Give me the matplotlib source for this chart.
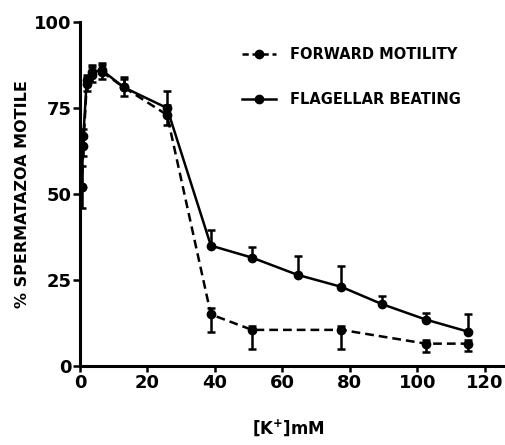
import matplotlib
matplotlib.use("Agg")
import matplotlib.pyplot as plt
import numpy as np
from matplotlib.lines import Line2D

# Forward motility (dashed)
fm_x = [0.5, 1.0, 2.0, 3.5, 6.5, 13.0, 25.8, 38.8, 51.0, 77.5, 102.5, 115.0]
fm_y = [52.0, 64.0, 82.0, 84.5, 85.5, 81.0, 73.0, 15.0, 10.5, 10.5, 6.5, 6.5]
fm_lo = [6.0, 3.0, 2.0, 2.0, 2.0, 2.5, 3.0, 5.0, 5.5, 5.5, 2.5, 2.0]
fm_hi = [6.0, 3.0, 2.0, 2.5, 2.0, 2.5, 3.0, 2.0, 1.0, 1.0, 1.0, 1.0]

# Flagellar beating (solid)
fb_x = [0.5, 1.0, 2.0, 3.5, 6.5, 13.0, 25.8, 38.8, 51.0, 64.5, 77.5, 89.5, 102.5, 115.0]
fb_y = [52.0, 67.0, 83.0, 85.5, 86.0, 81.0, 75.0, 35.0, 31.5, 26.5, 23.0, 18.0, 13.5, 10.0]
fb_lo = [0, 0, 0, 0, 0, 0, 0, 0, 0, 0, 0, 0, 0, 0]
fb_hi = [0.0, 2.0, 1.5, 2.0, 2.0, 3.0, 5.0, 4.5, 3.0, 5.5, 6.0, 2.3, 2.0, 5.0]

x_ticks = [0, 20, 40, 60, 80, 100, 120]
y_ticks = [0, 25, 50, 75, 100]

plt.rcParams['font.family'] = ['DejaVu Sans']
fig = plt.figure(figsize=(5.06, 4.45), dpi=100)
ax = fig.add_axes([80/506, 1-366/445, (505-80)/506, (366-22)/445])

ax.errorbar(fm_x, fm_y, yerr=[fm_lo, fm_hi], fmt='o', color='black', ls=(0, (3.5, 2.0)),
            lw=1.8, ms=6, capsize=3, elinewidth=1.8, capthick=1.8)
ax.errorbar(fb_x, fb_y, yerr=[fb_lo, fb_hi], fmt='o', color='black', ls='-',
            lw=1.8, ms=6, capsize=3, elinewidth=1.8, capthick=1.8)

ax.set_xlim(0, 126)
ax.set_ylim(0, 100)
ax.set_xticks(x_ticks)
ax.set_yticks(y_ticks)
ax.set_yticklabels([str(v) for v in y_ticks], fontsize=13, fontweight='bold')
ax.set_xticklabels([str(v) for v in x_ticks], fontsize=13, fontweight='bold')
ax.tick_params(axis='y', direction='out', length=5, width=1.8, pad=1)
ax.tick_params(axis='x', direction='out', length=4, width=1.8, pad=2)
for s in ['top', 'right']:
    ax.spines[s].set_visible(False)
for s in ['left', 'bottom']:
    ax.spines[s].set_linewidth(2.2)
ax.spines['left'].set_bounds(0, 100)

ax.set_ylabel('% SPERMATAZOA MOTILE', fontsize=11.5, fontweight='bold')
ax.yaxis.set_label_coords(-(80-30)/425, 0.5)
ax.set_xlabel(r'[K$^{\mathbf{+}}$]mM', fontsize=12, fontweight='bold')
ax.xaxis.set_label_coords((288-80)/425, -(428-366)/344)
ax.xaxis.label.set_va('center')

h1 = Line2D([], [], color='black', ls=(0, (2.5, 1.5)), lw=1.8, marker='o', ms=6)
h2 = Line2D([], [], color='black', ls='-', lw=1.8, marker='o', ms=6)
leg = ax.legend([h1, h2], ['FORWARD MOTILITY', 'FLAGELLAR BEATING'],
                loc='upper left', bbox_to_anchor=((242-80)/425, (366-47)/344),
                frameon=False, handlelength=2.3, labelspacing=2.05,
                prop={'size': 10.5, 'weight': 'bold'}, handletextpad=1.0,
                borderaxespad=0, borderpad=0)

fig.savefig('out.png', dpi=100)
